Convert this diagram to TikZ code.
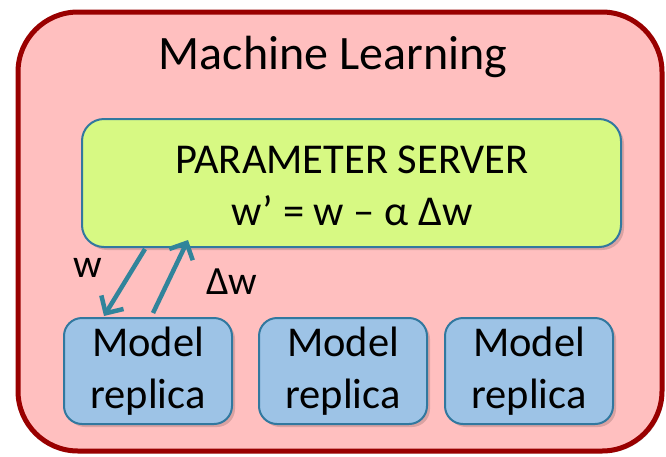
\documentclass[tikz,border=0pt]{standalone}
\usepackage{fontspec}
\setmainfont{Carlito}
\usetikzlibrary{arrows.meta,shadows}
\definecolor{pinkfill}{HTML}{FFBFBF}
\definecolor{darkred}{HTML}{990000}
\definecolor{greenfill}{HTML}{D7F983}
\definecolor{bluefill}{HTML}{9DC3E6}
\definecolor{tealedge}{HTML}{31789F}
\definecolor{arrowcol}{HTML}{31849B}
\tikzset{
  x=1pt,y=-1pt,
  outerbox/.style={draw=darkred,line width=5pt,fill=pinkfill,rounded corners=60pt,
    drop shadow={shadow xshift=2pt,shadow yshift=-2pt,opacity=0.25,fill=black}},
  serverbox/.style={draw=tealedge,line width=2pt,fill=greenfill,rounded corners=22pt,
    drop shadow={shadow xshift=3pt,shadow yshift=-3pt,opacity=0.15,fill=black}},
  modelbox/.style={draw=tealedge,line width=2pt,fill=bluefill,rounded corners=18pt,
    minimum width=168pt,minimum height=106pt,inner sep=0pt,
    drop shadow={shadow xshift=3pt,shadow yshift=-3pt,opacity=0.15,fill=black}},
  txt/.style={font=\fontsize{42.5}{52}\selectfont,text=black,inner sep=0pt},
  lbl/.style={font=\fontsize{40}{48}\selectfont,text=black,inner sep=0pt},
  conn/.style={draw=arrowcol,line width=4.5pt,-{Straight Barb[length=13pt,width=26pt,line width=4.5pt]}},
}
\begin{document}
\begin{tikzpicture}
\useasboundingbox (0,0) rectangle (666,456);
\node[outerbox,minimum width=644pt,minimum height=439pt,inner sep=0pt] (ml) at (340,231.5) {};
\node[txt,font=\fontsize{48}{56}\selectfont,anchor=base] (title) at (333,69) {Machine Learning};
\node[serverbox,minimum width=539pt,minimum height=128pt,inner sep=0pt] (ps) at (351.5,183) {};
\node[txt,anchor=base] (pstitle) at (352,173) {PARAMETER SERVER};
\node[txt,anchor=base] (psrule) at (352,225) {w’ = w – α Δw};
\node[modelbox,align=center,txt] (m1) at (148,371) {Model\\replica};
\node[modelbox,align=center,txt] (m2) at (343,371) {Model\\replica};
\node[modelbox,align=center,txt] (m3) at (529,371) {Model\\replica};
\coordinate (wtop) at (145,249);
\coordinate (wbot) at (104,316);
\coordinate (dwbot) at (153,313);
\coordinate (dwtop) at (188,240);
\draw[conn] (wtop) -- (wbot);
\draw[conn] (dwbot) -- (dwtop);
\node[lbl] (wlabel) at (88,268) {w};
\node[lbl] (dwlabel) at (232,282) {Δw};
\end{tikzpicture}
\end{document}
